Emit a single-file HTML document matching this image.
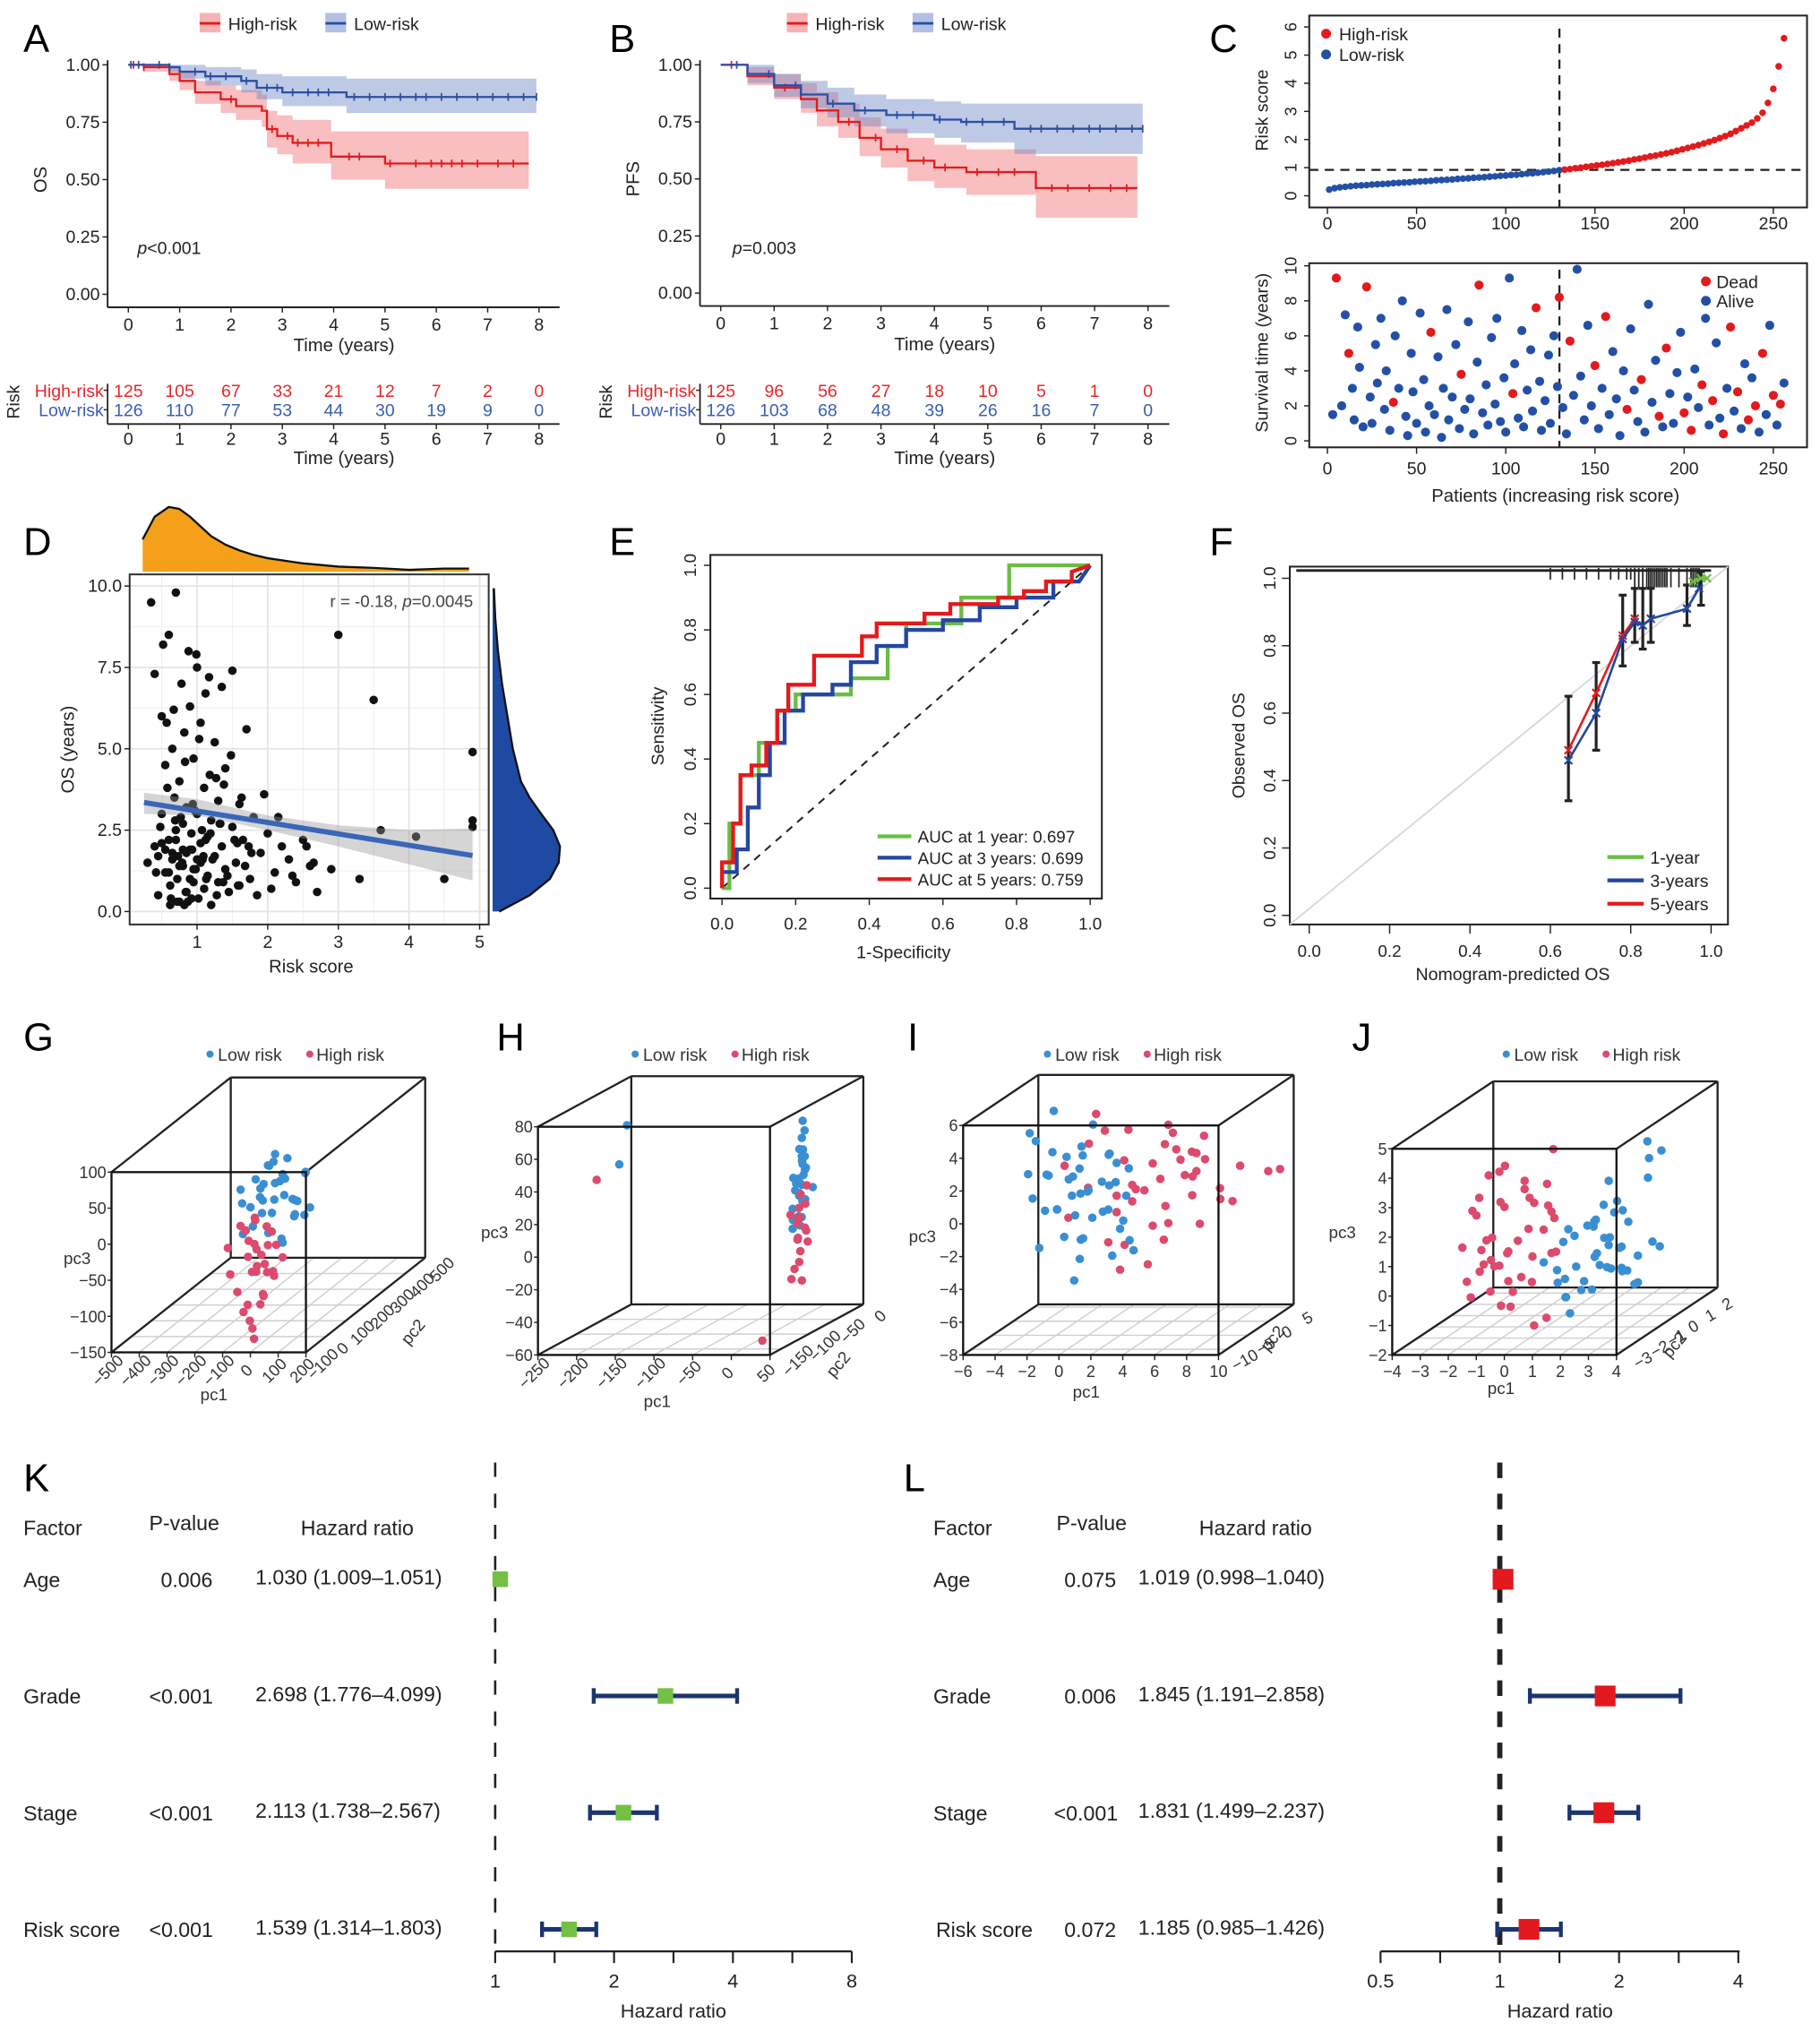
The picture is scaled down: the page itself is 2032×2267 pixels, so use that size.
<!DOCTYPE html>
<html><head><meta charset="utf-8"><title>Risk model figure</title>
<style>html,body{margin:0;padding:0;background:#fff;}svg{display:block;font-family:"Liberation Sans",Arial,sans-serif;}</style>
</head><body>
<svg id="fig" xmlns="http://www.w3.org/2000/svg" width="2032" height="2267" viewBox="0 0 1404 1566.4"></svg>
<script>
// ---------------- DATA ----------------
const kmYears=[0,1,2,3,4,5,6,7,8];
const aHighT=[0,0.3,0.8,1.0,1.3,1.8,2.1,2.6,2.7,2.9,3.2,3.95,5.0,7.8];
const aHighS=[1,0.99,0.96,0.93,0.88,0.85,0.82,0.80,0.72,0.69,0.66,0.60,0.57,0.57];
const aHighLo=[1,0.97,0.93,0.89,0.83,0.79,0.76,0.73,0.64,0.61,0.57,0.50,0.46,0.46];
const aHighHi=[1,1,0.99,0.97,0.93,0.91,0.89,0.87,0.80,0.78,0.76,0.71,0.71,0.71];
const aLowT=[0,0.8,1.0,1.5,2.2,2.5,3.0,4.25,7.95];
const aLowS=[1,0.99,0.97,0.95,0.93,0.90,0.88,0.86,0.86];
const aLowLo=[1,0.97,0.94,0.91,0.88,0.85,0.82,0.79,0.79];
const aLowHi=[1,1,1,0.99,0.98,0.96,0.95,0.94,0.94];
const aHighCens=[0.1,0.3,2.0,2.8,3.1,3.3,3.5,3.7,4.3,4.5,5.1,5.6,5.9,6.1,6.3,6.5,6.8,7.2,7.5];
const aLowCens=[0.05,0.2,0.6,0.8,1.3,1.6,1.9,2.3,2.7,2.9,3.2,3.5,3.7,3.9,4.4,4.7,5.0,5.3,5.6,5.8,6.1,6.4,6.8,7.1,7.4,7.7,7.95];
const aRiskHigh=[125,105,67,33,21,12,7,2,0];
const aRiskLow=[126,110,77,53,44,30,19,9,0];
const bHighT=[0,0.5,1.0,1.5,1.8,2.2,2.6,3.0,3.5,4.0,4.6,5.9,7.8];
const bHighS=[1,0.95,0.90,0.85,0.80,0.75,0.68,0.63,0.58,0.55,0.53,0.46,0.46];
const bHighLo=[1,0.91,0.85,0.79,0.73,0.68,0.60,0.55,0.49,0.46,0.43,0.33,0.33];
const bHighHi=[1,0.99,0.96,0.92,0.88,0.83,0.77,0.72,0.68,0.65,0.63,0.60,0.60];
const bLowT=[0,0.5,1.0,1.5,2.0,2.5,3.1,4.0,4.5,5.5,7.9];
const bLowS=[1,0.96,0.91,0.87,0.83,0.80,0.78,0.76,0.75,0.72,0.72];
const bLowLo=[1,0.92,0.86,0.81,0.77,0.73,0.70,0.68,0.66,0.61,0.61];
const bLowHi=[1,1,0.96,0.93,0.90,0.87,0.85,0.84,0.83,0.83,0.83];
const bHighCens=[0.2,1.2,2.4,2.9,3.3,3.8,4.2,4.8,5.2,5.5,6.2,6.5,6.9,7.3,7.6];
const bLowCens=[0.3,0.9,1.4,2.1,2.7,3.3,3.6,4.1,4.6,4.9,5.3,5.8,6.0,6.3,6.6,6.9,7.1,7.4,7.7,7.9];
const bRiskHigh=[125,96,56,27,18,10,5,1,0];
const bRiskLow=[126,103,68,48,39,26,16,7,0];
const riskScores=[0.22,0.27,0.3,0.32,0.34,0.36,0.37,0.38,0.40,0.41,0.42,0.43,0.45,0.46,0.47,0.48,0.5,0.51,0.52,0.53,0.55,0.56,0.57,0.58,0.6,0.61,0.62,0.64,0.65,0.66,0.68,0.69,0.71,0.72,0.74,0.75,0.77,0.79,0.8,0.82,0.84,0.86,0.88,0.91,0.93,0.95,0.98,1.0,1.03,1.05,1.08,1.1,1.13,1.16,1.19,1.22,1.25,1.29,1.32,1.36,1.4,1.43,1.47,1.51,1.55,1.6,1.65,1.7,1.75,1.8,1.86,1.92,1.98,2.05,2.12,2.2,2.3,2.4,2.5,2.6,2.75,2.95,3.3,3.8,4.6,5.6];
const riskCut=0.92;
const survPatient=[3,5,8,10,12,14,15,17,18,20,22,24,25,27,28,30,32,33,35,37,38,40,42,44,45,47,48,50,52,54,55,57,58,60,62,64,65,67,68,70,72,74,75,77,79,80,82,84,85,87,89,90,92,94,95,97,99,100,102,104,105,107,109,110,112,114,115,117,119,120,122,124,125,127,129,130,132,134,136,138,140,142,144,146,148,150,152,154,156,158,160,162,164,166,168,170,172,174,176,178,180,182,184,186,188,190,192,194,196,198,200,202,204,206,208,210,212,214,216,218,220,222,224,226,228,230,232,234,236,238,240,242,244,246,248,250,252,254,256];
const survTime=[1.5,9.3,2.0,7.2,5.0,3.0,1.2,6.5,4.2,0.8,8.8,2.5,1.0,5.5,3.3,7.0,1.8,4.0,0.6,2.2,6.0,3.0,8.0,1.4,0.3,5.0,2.8,1.0,7.3,3.5,0.5,2.0,6.2,1.5,4.8,0.2,3.0,7.5,1.2,2.5,5.5,0.7,3.8,1.8,6.8,2.4,0.4,4.5,8.9,1.6,3.2,0.9,5.9,2.1,7.0,1.1,3.6,0.5,9.3,2.7,4.4,1.3,6.3,0.8,2.9,5.2,1.7,7.6,3.4,0.6,2.3,4.9,1.0,6.0,3.1,8.2,1.9,0.4,5.7,2.6,9.8,3.7,1.2,6.6,2.0,4.3,0.7,3.0,7.1,1.5,5.1,2.4,0.3,4.0,1.8,6.4,2.9,1.1,3.5,0.5,7.8,2.2,4.6,1.4,0.8,5.3,2.7,1.0,3.9,6.2,1.6,2.5,0.6,4.1,1.9,3.2,7.0,0.9,2.3,5.6,1.3,0.4,3.0,6.5,1.7,2.8,0.7,4.4,1.2,3.6,2.0,0.5,5.0,1.5,6.6,2.6,0.9,2.1,3.3];
const deadPatients=[5,12,22,37,58,75,85,104,117,130,136,150,156,168,176,186,190,200,204,210,216,222,226,230,236,240,244,250,254];
const dRisk=[0.3,0.35,0.4,0.4,0.45,0.5,0.5,0.55,0.55,0.6,0.6,0.62,0.65,0.65,0.68,0.7,0.7,0.72,0.75,0.75,0.78,0.8,0.8,0.82,0.85,0.85,0.88,0.9,0.9,0.92,0.95,0.95,0.98,1.0,1.0,1.02,1.05,1.05,1.08,1.1,1.1,1.12,1.15,1.15,1.18,1.2,1.2,1.25,1.25,1.3,1.3,1.35,1.35,1.4,1.4,1.45,1.5,1.5,1.55,1.6,1.6,1.65,1.7,1.75,1.8,1.85,1.9,1.95,2.0,2.05,2.1,2.2,2.3,2.4,2.5,2.6,2.7,2.9,3.0,3.3,3.5,4.1,4.5,4.9,0.42,0.48,0.58,0.63,0.67,0.73,0.77,0.83,0.87,0.93,0.97,1.03,1.07,1.13,1.17,1.22,1.28,1.33,1.38,1.43,1.48,1.53,1.58,1.63,1.68,1.73,0.52,0.57,0.69,0.79,0.84,0.94,0.99,1.09,1.19,1.27,1.37,1.57,1.77,2.15,2.35,2.55,2.65,0.45,0.55,0.65,0.75,0.85,0.95,1.05,0.5,0.6,0.7,0.8,0.9,1.0,0.62,0.72,0.82,0.92,1.12,1.32,3.6,4.9,4.9];
const dOS=[1.5,9.5,2.0,7.3,0.5,3.0,6.0,1.2,4.5,2.2,8.5,0.8,1.8,5.0,3.5,2.5,9.8,1.0,4.0,0.3,7.0,2.7,1.4,5.5,0.6,3.2,8.0,1.9,6.3,2.4,0.9,4.7,1.3,3.0,7.5,0.4,2.1,5.8,1.6,3.8,0.7,6.7,2.3,1.1,4.2,2.8,0.2,5.2,1.7,3.4,0.9,6.9,2.0,1.3,4.4,0.6,2.6,7.4,1.5,3.3,0.8,2.2,5.6,1.0,2.9,0.5,1.8,3.6,2.4,0.7,1.2,2.0,1.6,0.9,2.2,1.4,0.6,1.3,8.5,1.0,6.5,2.3,1.0,4.9,1.2,2.6,3.8,0.4,6.2,1.7,2.9,4.6,0.3,1.9,3.1,5.3,2.5,1.0,7.2,1.6,0.5,2.7,3.9,1.1,4.8,2.2,0.8,3.5,1.4,2.0,8.2,5.8,2.8,1.5,0.6,3.3,7.9,1.7,2.4,4.1,0.9,2.1,1.8,2.9,1.1,2.0,1.5,1.7,1.9,1.6,1.4,1.8,1.3,1.5,2.1,1.2,2.2,1.9,1.0,1.6,0.2,0.3,0.2,0.4,2.2,2.7,2.5,2.8,2.6];
const dDensX=[0.23,0.4,0.6,0.75,0.9,1.05,1.2,1.4,1.6,1.8,2.0,2.5,3.0,3.5,4.0,4.5,4.85];
const dDensY=[0.5,0.85,1.0,0.97,0.85,0.7,0.55,0.42,0.33,0.26,0.21,0.13,0.08,0.06,0.03,0.05,0.05];
const dDensOS=[0,0.5,1,1.5,2,2.5,3,3.5,4,5,6,7,8,9,9.9];
const dDensOSv=[0.1,0.55,0.85,0.98,1.0,0.9,0.72,0.55,0.42,0.3,0.22,0.14,0.08,0.04,0.02];
const dFitX=[0.25,4.9];
const dFitY=[3.35,1.72];
const dCiX=[0.25,1,2,3,4,4.9];
const dCiLo=[3.0,2.95,2.5,2.0,1.45,0.95];
const dCiHi=[3.65,3.45,2.95,2.65,2.5,2.55];
const roc1F=[0,0.02,0.02,0.05,0.05,0.1,0.1,0.15,0.15,0.2,0.2,0.35,0.35,0.45,0.45,0.5,0.5,0.65,0.65,0.78,0.78,0.95,1];
const roc1T=[0,0,0.2,0.2,0.35,0.35,0.45,0.45,0.55,0.55,0.6,0.6,0.65,0.65,0.75,0.75,0.82,0.82,0.9,0.9,1.0,1.0,1];
const roc3F=[0,0,0.04,0.04,0.07,0.07,0.1,0.1,0.13,0.13,0.17,0.17,0.22,0.22,0.3,0.3,0.35,0.35,0.42,0.42,0.5,0.5,0.6,0.6,0.7,0.7,0.8,0.8,0.9,0.9,0.97,1];
const roc3T=[0,0.05,0.05,0.12,0.12,0.25,0.25,0.35,0.35,0.45,0.45,0.55,0.55,0.6,0.6,0.63,0.63,0.7,0.7,0.75,0.75,0.8,0.8,0.83,0.83,0.87,0.87,0.9,0.9,0.95,0.95,1];
const roc5F=[0,0,0.03,0.03,0.05,0.05,0.08,0.08,0.12,0.12,0.15,0.15,0.18,0.18,0.25,0.25,0.38,0.38,0.42,0.42,0.55,0.55,0.62,0.62,0.75,0.75,0.82,0.82,0.88,0.88,0.95,0.95,1];
const roc5T=[0,0.08,0.08,0.2,0.2,0.35,0.35,0.38,0.38,0.45,0.45,0.55,0.55,0.63,0.63,0.72,0.72,0.78,0.78,0.82,0.82,0.85,0.85,0.88,0.88,0.9,0.9,0.92,0.92,0.95,0.95,0.98,1];
const rocLabels=['AUC at 1 year: 0.697','AUC at 3 years: 0.699','AUC at 5 years: 0.759'];
const cal1P=[0.955,0.975,0.99];
const cal1O=[0.99,1.0,1.0];
const cal3P=[0.645,0.714,0.78,0.81,0.83,0.85,0.94,0.97];
const cal3O=[0.46,0.60,0.82,0.87,0.86,0.88,0.91,0.97];
const cal5P=[0.645,0.714,0.78,0.81];
const cal5O=[0.49,0.66,0.83,0.88];
const calErrP=[0.645,0.714,0.78,0.81,0.83,0.85,0.94,0.975];
const calErrLo=[0.34,0.49,0.74,0.81,0.79,0.81,0.86,0.92];
const calErrHi=[0.65,0.75,0.95,0.97,0.97,0.97,0.98,1.02];
const calRug=[0.6,0.63,0.66,0.69,0.72,0.75,0.77,0.79,0.8,0.81,0.82,0.83,0.84,0.845,0.85,0.855,0.86,0.865,0.87,0.875,0.88,0.885,0.89,0.9,0.92,0.94,0.95,0.955,0.96,0.965,0.97];
const gLow1=[-280,-250,-230,-210,-200,-190,-180,-170,-160,-150,-140,-130,-120,-110,-100,-90,-80,-60,-40,-20,-220,-180,-150,-130,-100,-70,-160,-120,-90,-50,-140,-110,-170,-60,-200];
const gLow3=[-20,10,-40,20,-10,30,0,-30,40,-50,10,-20,25,-60,5,-35,15,-10,0,-25,-45,35,-15,15,-40,-5,20,-70,30,-30,55,45,-5,20,5];
const gLow2=[250,200,280,220,180,260,300,150,240,200,270,190,230,210,160,250,290,220,180,200,170,240,280,130,260,210,190,230,150,270,220,240,200,260,230];
const gHigh1=[-260,-230,-210,-190,-180,-170,-160,-150,-140,-130,-120,-110,-100,-90,-80,-70,-200,-175,-155,-135,-115,-95,-145,-125,-165,-105,-185,-140,-120,-100,-150,-130];
const gHigh3=[-60,-90,-40,-110,-70,-20,-130,-50,-100,-80,-30,-120,-60,-90,-45,-75,-25,-140,-85,-55,-105,-35,-150,-65,-95,-115,-50,-15,-80,-125,-165,-175];
const gHigh2=[150,120,170,100,140,160,110,130,180,90,150,120,170,140,100,160,130,110,150,120,180,140,100,130,160,110,150,120,140,90,120,100];
const hLow1=[30,35,40,42,45,38,33,48,36,44,40,31,47,39,43,37,41,34,46,42,38,44,36,40,45,39,41,43,-220,-230];
const hLow3=[10,20,30,40,50,25,35,15,45,55,60,5,28,38,22,33,48,18,42,12,52,8,26,36,65,70,44,32,59,35];
const hLow2=[-100,-90,-110,-95,-105,-100,-85,-115,-92,-108,-98,-102,-88,-112,-96,-104,-94,-106,-99,-101,-93,-107,-97,-103,-100,-95,-98,-102,-50,-50];
const hHigh1=[32,36,40,44,38,34,42,46,37,41,35,39,43,33,45,40,36,38,-238,33];
const hHigh3=[-20,-10,0,5,10,15,-5,20,25,-15,8,12,30,-25,3,18,-2,-28,31,-53];
const hHigh2=[-100,-95,-105,-98,-102,-110,-90,-100,-96,-104,-99,-101,-93,-107,-97,-103,-100,-95,-80,-160];
const iLow1=[-4,-3.5,-3,-2.5,-2,-1.5,-1,-0.5,0,0.5,1,1.5,2,-3.8,-2.8,-1.8,-0.8,0.2,1.2,2.2,-3.2,-2.2,-1.2,-0.2,0.8,1.8,-2.6,-1.6,-0.6,0.4,-3.4,-2.4,-1.4,0.6,1.6,2.6,-1,-2,0,1,-3,-2.7,-1.1,-0.3,0.3];
const iLow3=[0,2,-1,3,1,-2,4,0.5,-3,2.5,-0.5,1.5,-1.5,3.5,-2.5,0,2,-4,1,-1,5,-0.5,3,-2,0.8,-3.5,1.8,-1.2,2.8,-0.8,4.5,2.2,-5,1.2,0,-2.2,0.3,1,-1,2,1.4,-0.4,-2.6,0.6,2.4];
const iLow2=[-3,-6,-1,-4,-2,-5,0,-3,-7,-2,-4,-1,-5,-3,-6,-2,-4,0,-3,-5,-1,-4,-2,-6,-3,-1,-5,-2,-4,-3,-6,-1,-3,-4,-2,-5,-3,-1,-4,-2,-3,-5,-2,-4,-1];
const iHigh1=[-2,-1,0,1,2,3,4,5,6,7,8,9,0.5,1.5,2.5,3.5,4.5,5.5,6.5,7.5,1,2,3,4,5,6,-1.5,0,2,4,6,8,3,5,7,1,2.5,4.5,10.5,11.5,3.8,5.8,2.2,6.8];
const iHigh3=[2,3,1,-1,2.5,0.5,3.5,-2,1.5,4,-0.5,2,5.5,-3,0,2.8,-1.5,1,3.2,-0.2,-2.5,4.2,1.8,-3.5,2.2,0.2,-1,3.8,-4,1.2,2.6,0.8,-2,3,-1.2,0,1,4.5,1.5,1.8,-0.8,1.6,0.4,2.4];
const iHigh2=[-3,-1,-5,-2,-4,-3,0,-6,-2,-4,-1,-3,-5,-2,-4,0,-3,-1,-5,-2,-4,-3,-1,-6,-2,-3,-4,-1,-5,-3,-2,-4,-1,-3,-5,-2,-4,-3,-2,-3,-1,-4,-2,-3];
const jHigh1=[-3.3,-3,-2.7,-2.4,-2.1,-1.8,-1.5,-1.2,-0.9,-0.6,-0.3,0,0.3,-2.9,-2.3,-1.7,-1.1,-0.5,0.1,-2.6,-2,-1.4,-0.8,-0.2,-3.1,-2.5,-1.9,-1.3,-0.7,-1.6,-1,-2.2,-0.4,-1.2,-1.8,-2.8,-0.1,-1.5,-2.4,-0.9,-2.1,-1.4,-0.6,-3.2,-2.7];
const jHigh3=[0.5,2,-1,1.5,3,0,2.5,-0.5,1,3.5,0.2,1.8,-1.5,-0.3,0.8,2.2,-1.2,1.2,0.4,2.8,-0.8,1.6,0.2,-1.8,1.4,-0.2,3.2,0.6,2.4,-0.6,1.1,0.9,-0.4,2,-1.4,0.3,1.3,-1,0,2.6,-0.1,0.5,1.7,-0.7,1.9];
const jHigh2=[-0.5,0,-1,0.5,-0.3,-0.8,0.2,-0.5,-1.2,0.4,-0.2,-0.7,-1.5,0.1,-0.4,-0.9,-1.3,0.3,-0.6,-0.1,-1,0.6,-0.5,-1.4,0,-0.8,-0.3,-1.1,0.2,-0.6,-0.4,-0.9,-1.2,0,-0.7,-0.2,-1,-0.5,-0.3,-0.8,-0.6,-1,0.1,-0.4,-0.9];
const jLow1=[-0.4,0,0.4,0.8,1.2,1.6,2,2.4,2.8,3.2,0.2,0.6,1,1.4,1.8,2.2,2.6,3,1.1,1.5,1.9,2.3,0.7,1.3,1.7,2.1,2.5,0.9,1.5,2.9,3.3,1.7,0.5,2,2.7,1.2,3.6,3.8,3.2,2.4,1.0,1.8,2.6,0.3,1.4,2.2];
const jLow3=[0,0.5,-0.5,1,-1,0.3,1.5,-0.3,0.8,0.2,-1.3,1.2,-0.8,0.6,-0.2,1,2,0.4,-0.6,1.8,0.1,-1.1,0.9,0.2,-0.4,0.7,1.3,-1.5,2.5,-0.7,3.5,1.6,0,0.3,-0.2,1.1,4.3,3.8,2.8,2.2,-0.9,0.5,0.0,-0.6,1.4,-0.3];
const jLow2=[-0.5,0,-1,0.5,-0.3,-0.8,0.2,-0.5,-1.2,0.4,-0.2,-0.7,-1.5,0.1,-0.4,-0.9,-1.3,0.3,-0.6,-0.1,-1,0.6,-0.5,-1.4,0,-0.8,-0.3,-1.1,0.2,-0.6,-0.4,-0.9,-1.2,0,-0.7,-0.2,-1,-0.5,-0.3,-0.8,-0.6,-1,0.1,-0.4,-0.9,-0.2];
const forestFactors=['Age','Grade','Stage','Risk score'];
const kP=['0.006','<0.001','<0.001','<0.001'];
const kHR=[1.030,2.698,2.113,1.539];
const kLo=[1.009,1.776,1.738,1.314];
const kHi=[1.051,4.099,2.567,1.803];
const lP=['0.075','0.006','<0.001','0.072'];
const lHR=[1.019,1.845,1.831,1.185];
const lLo=[0.998,1.191,1.499,0.985];
const lHi=[1.040,2.858,2.237,1.426];

// ---------------- HELPERS ----------------
const NS='http://www.w3.org/2000/svg';
const root=document.getElementById('fig');
function mk(tag,a,name,parent){
  const el=document.createElementNS(NS,tag);
  for(const k in a) el.setAttribute(k,a[k]);
  
  
  (parent||root).appendChild(el);
  return el;
}
function T(x,y,s,name,o){
  o=o||{};
  const el=mk('text',{x:x,y:y,'font-size':o.fs||13,'text-anchor':o.a||'middle',fill:o.c||'#222'},name);
  if(o.it) el.setAttribute('font-style','italic');
  if(o.rot) el.setAttribute('transform','rotate('+o.rot+' '+x+' '+y+')');
  el.textContent=s;
  return el;
}
function L(x1,y1,x2,y2,name,o){
  o=o||{};
  const a={x1:x1,y1:y1,x2:x2,y2:y2,stroke:o.c||'#222','stroke-width':o.w||1};
  if(o.dash) a['stroke-dasharray']=o.dash;
  return mk('line',a,name);
}
function dot(x,y,r,c,name){return mk('circle',{cx:x,cy:y,r:r,fill:c},name);}
function fmt(v,d){return v.toFixed(d);}
function stepPts(t,s,xs,ys){let p=[[xs(t[0]),ys(s[0])]];for(let i=1;i<t.length;i++){p.push([xs(t[i]),ys(s[i-1])]);p.push([xs(t[i]),ys(s[i])]);}return p;}
function stepVal(t,s,x){let v=s[0];for(let i=0;i<t.length;i++){if(t[i]<=x)v=s[i];}return v;}

// ---------------- KM PANELS ----------------
function kmPanel(P){
  const xs=P.xs, ys=P.ys;
  T(P.letterX,40,P.letter,'panel-letter-'+P.letter,{fs:30,a:'start',c:'#000'});
  mk('rect',{x:P.legX,y:10,width:16,height:15,fill:'#f6b3b5'},'legend-high-risk-key');
  L(P.legX,18,P.legX+16,18,'legend-high-risk-line',{c:'#e41a1c',w:2});
  T(P.legX+22,23,'High-risk','legend-high-risk-label',{a:'start',fs:13.5});
  mk('rect',{x:P.legX+97,y:10,width:16,height:15,fill:'#b3c0e3'},'legend-low-risk-key');
  L(P.legX+97,18,P.legX+113,18,'legend-low-risk-line',{c:'#2a4fa3',w:2});
  T(P.legX+119,23,'Low-risk','legend-low-risk-label',{a:'start',fs:13.5});
  const groups=[[P.hT,P.hS,P.hLo,P.hHi,'#e41a1c','rgba(240,110,115,0.45)','high-risk',P.hC],[P.lT,P.lS,P.lLo,P.lHi,'#2a4fa3','rgba(110,135,200,0.45)','low-risk',P.lC]];
  groups.forEach(g=>{
    const up=stepPts(g[0],g[3],xs,ys), lo=stepPts(g[0],g[2],xs,ys).reverse();
    mk('polygon',{points:up.concat(lo).map(p=>p.join(',')).join(' '),fill:g[5]},'ci-band-'+g[6]);
  });
  groups.forEach(g=>{
    const pts=stepPts(g[0],g[1],xs,ys);
    mk('polyline',{points:pts.map(p=>p.join(',')).join(' '),fill:'none',stroke:g[4],'stroke-width':1.6},'survival-curve-'+g[6]);
    g[7].forEach(c=>{const y=ys(stepVal(g[0],g[1],c));L(xs(c),y-3,xs(c),y+3,'censor-mark-'+g[6],{c:g[4],w:1.2});});
  });
  L(P.axX,ys(1.02),P.axX,P.axY,'y-axis-line',{w:1.3});
  L(P.axX,P.axY,xs(8.4),P.axY,'x-axis-line',{w:1.3});
  [0,0.25,0.5,0.75,1].forEach(v=>{L(P.axX-4,ys(v),P.axX,ys(v),'y-tick');T(P.axX-6,ys(v)+4.5,fmt(v,2),'y-tick-label',{a:'end',fs:13.5});});
  kmYears.forEach(v=>{L(xs(v),P.axY,xs(v),P.axY+4,'x-tick');T(xs(v),P.axY+18,String(v),'x-tick-label',{fs:13.5});});
  T((xs(0)+xs(8))/2+8,P.axY+34,'Time (years)','x-axis-title',{fs:14});
  T(P.axX-47,ys(0.5),P.ylab,'y-axis-title',{fs:14,rot:-90});
  const pt=T(P.pX,196,'','p-value-annotation',{a:'start',fs:13.5});
  const ts=document.createElementNS(NS,'tspan');ts.setAttribute('font-style','italic');ts.textContent='p';pt.appendChild(ts);
  pt.appendChild(document.createTextNode(P.pTxt));
  T(P.axX-68,310,'Risk','risk-table-title',{fs:13.5,rot:-90});
  T(P.axX-3,306,'High-risk','risk-table-high-label',{a:'end',fs:13.5,c:'#e8262b'});
  T(P.axX-3,321,'Low-risk','risk-table-low-label',{a:'end',fs:13.5,c:'#3a5fb0'});
  L(P.axX,296,P.axX,327,'risk-table-y-axis',{w:1.2});
  L(P.axX-3,301,P.axX,301,'risk-tick');L(P.axX-3,316,P.axX,316,'risk-tick');
  kmYears.forEach((v,i)=>{
    T(xs(v),306,String(P.rH[i]),'risk-count-high',{fs:13.5,c:'#e8262b'});
    T(xs(v),321,String(P.rL[i]),'risk-count-low',{fs:13.5,c:'#3a5fb0'});
    L(xs(v),327,xs(v),331,'risk-x-tick');
    T(xs(v),343,String(v),'risk-x-tick-label',{fs:13.5});
  });
  L(P.axX,327,xs(8.4),327,'risk-table-x-axis',{w:1.3});
  T((xs(0)+xs(8))/2+8,358,'Time (years)','risk-table-x-title',{fs:14});
}
kmPanel({letter:'A',letterX:18,legX:154,xs:t=>99+t*39.6,ys:s=>227-s*177,axX:83,axY:237,ylab:'OS',pX:106,pTxt:'<0.001',
  hT:aHighT,hS:aHighS,hLo:aHighLo,hHi:aHighHi,hC:aHighCens,lT:aLowT,lS:aLowS,lLo:aLowLo,lHi:aLowHi,lC:aLowCens,rH:aRiskHigh,rL:aRiskLow});
kmPanel({letter:'B',letterX:470,legX:607,xs:t=>556+t*41.2,ys:s=>226-s*176,axX:540,axY:236,ylab:'PFS',pX:565,pTxt:'=0.003',
  hT:bHighT,hS:bHighS,hLo:bHighLo,hHi:bHighHi,hC:bHighCens,lT:bLowT,lS:bLowS,lLo:bLowLo,lHi:bLowHi,lC:bLowCens,rH:bRiskHigh,rL:bRiskLow});

// ---------------- PANEL C ----------------
(function(){
  const xs=p=>1024+p*1.376;
  T(933,40,'C','panel-letter-C',{fs:30,a:'start',c:'#000'});
  const yt=v=>151-v*21.7;
  mk('rect',{x:1010,y:12,width:384,height:148,fill:'none',stroke:'#222','stroke-width':1.4},'risk-score-plot-frame');
  L(1203,22,1203,160,'cutoff-vertical-line',{dash:'7,5',w:1.6});
  L(1010,yt(riskCut),1394,yt(riskCut),'cutoff-horizontal-line',{dash:'7,5',w:1.6});
  riskScores.forEach((v,i)=>{const p=1+i*3;dot(xs(p),yt(v),2.6,p>130?'#e31a1c':'#2350a5','risk-score-point');});
  [0,1,2,3,4,5,6].forEach(v=>{L(1006,yt(v),1010,yt(v),'risk-y-tick');T(1000,yt(v),String(v),'risk-y-tick-label',{fs:12.5,rot:-90});});
  [0,50,100,150,200,250].forEach(v=>{L(xs(v),160,xs(v),165,'risk-x-tick');T(xs(v),177,String(v),'risk-x-tick-label',{fs:13.5});});
  T(978,85,'Risk score','risk-y-axis-title',{fs:13.5,rot:-90});
  dot(1023,26,3.8,'#e31a1c','legend-high-risk-dot');T(1033,31,'High-risk','legend-high-risk-text',{a:'start',fs:13.5});
  dot(1023,42,3.8,'#2350a5','legend-low-risk-dot');T(1033,47,'Low-risk','legend-low-risk-text',{a:'start',fs:13.5});
  const ys=v=>340-v*13.5;
  mk('rect',{x:1010,y:203,width:384,height:142,fill:'none',stroke:'#222','stroke-width':1.4},'survival-plot-frame');
  L(1203,208,1203,345,'survival-cutoff-line',{dash:'7,5',w:1.6});
  const deadSet=new Set(deadPatients);
  const n=Math.min(survPatient.length,survTime.length);
  for(let i=0;i<n;i++){dot(xs(survPatient[i]),ys(survTime[i]),3.5,deadSet.has(survPatient[i])?'#e31a1c':'#2350a5','survival-point');}
  [0,2,4,6,8,10].forEach(v=>{L(1006,ys(v),1010,ys(v),'surv-y-tick');T(1000,ys(v),String(v),'surv-y-tick-label',{fs:12.5,rot:-90});});
  [0,50,100,150,200,250].forEach(v=>{L(xs(v),345,xs(v),350,'surv-x-tick');T(xs(v),366,String(v),'surv-x-tick-label',{fs:13.5});});
  T(978,272,'Survival time (years)','surv-y-axis-title',{fs:13.5,rot:-90});
  T(1200,387,'Patients (increasing risk score)','surv-x-axis-title',{fs:14});
  dot(1316,217,3.8,'#e31a1c','legend-dead-dot');T(1324,222,'Dead','legend-dead-text',{a:'start',fs:13.5});
  dot(1316,232,3.8,'#2350a5','legend-alive-dot');T(1324,237,'Alive','legend-alive-text',{a:'start',fs:13.5});
})();

// ---------------- PANEL D ----------------
(function(){
  const xs=r=>152+(r-1)*54.5, ys=o=>703-o*25.1;
  T(18,428,'D','panel-letter-D',{fs:30,a:'start',c:'#000'});
  mk('rect',{x:100,y:443,width:277,height:270,fill:'#fff'},'scatter-background');
  [0.5,1.5,2.5,3.5,4.5].forEach(v=>L(xs(v),443,xs(v),713,'minor-grid-x',{c:'#f1f1f1',w:0.8}));
  [1.25,3.75,6.25,8.75].forEach(v=>L(100,ys(v),377,ys(v),'minor-grid-y',{c:'#f1f1f1',w:0.8}));
  [1,2,3,4,5].forEach(v=>L(xs(v),443,xs(v),713,'major-grid-x',{c:'#e4e4e4',w:1.2}));
  [0,2.5,5,7.5,10].forEach(v=>L(100,ys(v),377,ys(v),'major-grid-y',{c:'#e4e4e4',w:1.2}));
  const up=dCiX.map((x,i)=>xs(x)+','+ys(dCiHi[i])), lo=dCiX.map((x,i)=>xs(x)+','+ys(dCiLo[i])).reverse();
  dRisk.forEach((r,i)=>{if(i<dOS.length)dot(xs(r),ys(dOS[i]),3.3,'#111','scatter-point');});
  mk('polygon',{points:up.concat(lo).join(' '),fill:'rgba(150,150,150,0.4)'},'regression-ci-band');
  L(xs(dFitX[0]),ys(dFitY[0]),xs(dFitX[1]),ys(dFitY[1]),'regression-line',{c:'#3a66b8',w:4});
  mk('rect',{x:100,y:443,width:277,height:270,fill:'none',stroke:'#333','stroke-width':1.4},'scatter-frame');
  [1,2,3,4,5].forEach(v=>{L(xs(v),713,xs(v),717,'d-x-tick');T(xs(v),731,String(v),'d-x-tick-label',{fs:13.5});});
  [0,2.5,5,7.5,10].forEach(v=>{L(96,ys(v),100,ys(v),'d-y-tick');T(94,ys(v)+4.5,fmt(v,1),'d-y-tick-label',{a:'end',fs:13.5});});
  T(240,750,'Risk score','d-x-axis-title',{fs:14});
  T(57,578,'OS (years)','d-y-axis-title',{fs:14,rot:-90});
  const an=T(365,468,'','correlation-annotation',{a:'end',fs:13,c:'#444'});
  an.appendChild(document.createTextNode('r = -0.18, '));
  const ip=document.createElementNS(NS,'tspan');ip.setAttribute('font-style','italic');ip.textContent='p';an.appendChild(ip);
  an.appendChild(document.createTextNode('=0.0045'));
  let d='M'+xs(dDensX[0])+',441 ';dDensX.forEach((x,i)=>{d+='L'+xs(x)+','+(441-dDensY[i]*50)+' ';});d+='L'+xs(dDensX[dDensX.length-1])+',441 Z';
  mk('path',{d:d,fill:'#f5a01a',stroke:'none'},'risk-density-fill');
  let d2='';dDensX.forEach((x,i)=>{d2+=(i?'L':'M')+xs(x)+','+(441-dDensY[i]*50)+' ';});
  mk('path',{d:d2,fill:'none',stroke:'#111','stroke-width':1.6},'risk-density-outline');
  let d3='M380,'+ys(0)+' ';dDensOS.forEach((o,i)=>{d3+='L'+(380+dDensOSv[i]*52)+','+ys(o)+' ';});d3+='L380,'+ys(9.9)+' Z';
  mk('path',{d:d3,fill:'#1f4aa3',stroke:'none'},'os-density-fill');
  let d4='';dDensOS.forEach((o,i)=>{d4+=(i?'L':'M')+(380+dDensOSv[i]*52)+','+ys(o)+' ';});d4+='L380,'+ys(9.9);
  mk('path',{d:d4,fill:'none',stroke:'#111','stroke-width':1.6},'os-density-outline');
})();

// ---------------- PANEL E ----------------
(function(){
  const xs=f=>557+f*284, ys=s=>685-s*249;
  T(470,428,'E','panel-letter-E',{fs:30,a:'start',c:'#000'});
  mk('rect',{x:548,y:428,width:302,height:265,fill:'none',stroke:'#222','stroke-width':1.4},'roc-frame');
  L(xs(0),ys(0),xs(1),ys(1),'roc-diagonal',{dash:'6,5',w:1.4});
  [[roc1F,roc1T,'#6bbd45','roc-1-year'],[roc3F,roc3T,'#2447a0','roc-3-years'],[roc5F,roc5T,'#e41a1c','roc-5-years']].forEach(r=>{
    mk('polyline',{points:r[0].map((f,i)=>xs(f)+','+ys(r[1][i])).join(' '),fill:'none',stroke:r[2],'stroke-width':3},r[3]);
  });
  [0,0.2,0.4,0.6,0.8,1].forEach(v=>{
    L(xs(v),693,xs(v),698,'e-x-tick');T(xs(v),717,fmt(v,1),'e-x-tick-label',{fs:13});
    L(543,ys(v),548,ys(v),'e-y-tick');T(537,ys(v),fmt(v,1),'e-y-tick-label',{fs:13,rot:-90});
  });
  T(697,739,'1-Specificity','e-x-axis-title',{fs:13.5});
  T(512,560,'Sensitivity','e-y-axis-title',{fs:13.5,rot:-90});
  const cols=['#6bbd45','#2447a0','#e41a1c'];
  rocLabels.forEach((s,i)=>{const y=645+i*16.5;L(677,y,703,y,'roc-legend-line',{c:cols[i],w:3});T(708,y+5,s,'roc-legend-label',{a:'start',fs:13});});
})();

// ---------------- PANEL F ----------------
(function(){
  const xs=p=>1010+p*310, ys=o=>706-o*260;
  T(933,428,'F','panel-letter-F',{fs:30,a:'start',c:'#000'});
  mk('rect',{x:995,y:437,width:338,height:276,fill:'none',stroke:'#222','stroke-width':1.4},'calibration-frame');
  L(995,713,1333,437,'ideal-diagonal',{c:'#d8d8d8',w:1.3});
  calRug.forEach(p=>L(xs(p),438,xs(p),447+(p>0.8?6:0),'prediction-rug',{w:1.2}));
  L(1000,440,xs(1),440,'rug-baseline',{w:2});
  calErrP.forEach((p,i)=>{
    L(xs(p),ys(calErrLo[i]),xs(p),ys(calErrHi[i]),'error-bar',{w:2.2});
    L(xs(p)-3,ys(calErrLo[i]),xs(p)+3,ys(calErrLo[i]),'error-bar-cap',{w:2.2});
    L(xs(p)-3,ys(calErrHi[i]),xs(p)+3,ys(calErrHi[i]),'error-bar-cap',{w:2.2});
  });
  [[cal1P,cal1O,'#6bbd45','calibration-1-year'],[cal5P,cal5O,'#e41a1c','calibration-5-years'],[cal3P,cal3O,'#2447a0','calibration-3-years']].forEach(c=>{
    mk('polyline',{points:c[0].map((p,i)=>xs(p)+','+ys(c[1][i])).join(' '),fill:'none',stroke:c[2],'stroke-width':1.8},c[3]);
    c[0].forEach((p,i)=>{const x=xs(p),y=ys(c[1][i]);L(x-3,y-3,x+3,y+3,'calibration-marker',{c:c[2],w:1.5});L(x-3,y+3,x+3,y-3,'calibration-marker',{c:c[2],w:1.5});});
  });
  [0,0.2,0.4,0.6,0.8,1].forEach(v=>{
    L(xs(v),713,xs(v),720,'f-x-tick');T(xs(v),738,fmt(v,1),'f-x-tick-label',{fs:13});
    L(989,ys(v),995,ys(v),'f-y-tick');T(984,ys(v),fmt(v,1),'f-y-tick-label',{fs:13,rot:-90});
  });
  T(1167,756,'Nomogram-predicted OS','f-x-axis-title',{fs:13.5});
  T(960,575,'Observed OS','f-y-axis-title',{fs:13.5,rot:-90});
  [['1-year','#6bbd45'],['3-years','#2447a0'],['5-years','#e41a1c']].forEach((l,i)=>{const y=661+i*18;L(1240,y,1268,y,'cal-legend-line',{c:l[1],w:3});T(1273,y+5,l[0],'cal-legend-label',{a:'start',fs:13.5});});
})();

// ---------------- PANELS G-J (3D PCA) ----------------
function pca3d(P){
  T(P.lx,810,P.letter,'panel-letter-'+P.letter,{fs:30,a:'start',c:'#000'});
  const proj=(a,b,c)=>{const u=(a-P.r1[0])/(P.r1[1]-P.r1[0]),v=(b-P.r2[0])/(P.r2[1]-P.r2[0]),w=(c-P.r3[0])/(P.r3[1]-P.r3[0]);
    return [P.fx+u*P.fw+v*P.dx, P.fy+P.fh-w*P.fh+v*P.dy];};
  const F=P.fx,Y=P.fy,W=P.fw,H=P.fh,dx=P.dx,dy=P.dy;
  P.t1.forEach(a=>{const p0=proj(a,P.r2[0],P.r3[0]),p1=proj(a,P.r2[1],P.r3[0]);L(p0[0],p0[1],p1[0],p1[1],'floor-grid-line',{c:'#cfcfcf',w:1});});
  P.t2.forEach(b=>{const p0=proj(P.r1[0],b,P.r3[0]),p1=proj(P.r1[1],b,P.r3[0]);L(p0[0],p0[1],p1[0],p1[1],'floor-grid-line',{c:'#cfcfcf',w:1});});
  L(F+dx,Y+dy,F+W+dx,Y+dy,'box-edge',{w:1.6});L(F+dx,Y+dy,F+dx,Y+H+dy,'box-edge',{w:1.6});
  L(F+W+dx,Y+dy,F+W+dx,Y+H+dy,'box-edge',{w:1.6});L(F+dx,Y+H+dy,F+W+dx,Y+H+dy,'box-edge',{w:1.6});
  L(F,Y,F+dx,Y+dy,'box-edge',{w:1.6});L(F+W,Y,F+W+dx,Y+dy,'box-edge',{w:1.6});
  L(F,Y+H,F+dx,Y+H+dy,'box-edge',{w:1.6});L(F+W,Y+H,F+W+dx,Y+H+dy,'box-edge',{w:1.6});
  const groups=[[P.low1,P.low3,P.low2,'#3a8fd3','low-risk-point'],[P.high1,P.high3,P.high2,'#dc4a6e','high-risk-point']];
  const order=P.highFirst?[1,0]:[0,1];
  order.forEach(k=>{const g=groups[k];const n=Math.min(g[0].length,g[1].length,g[2].length);
    for(let i=0;i<n;i++){const p=proj(g[0][i],g[2][i],g[1][i]);dot(p[0],p[1],3.3,g[3],g[4]);}});
  mk('rect',{x:F,y:Y,width:W,height:H,fill:'none',stroke:'#111','stroke-width':1.6},'box-front-face');
  P.t3.forEach(c=>{const y=proj(P.r1[0],P.r2[0],c)[1];L(F-3,y,F,y,'pc3-tick');T(F-4,y+4.5,String(c).replace('-','\u2212'),'pc3-tick-label',{a:'end',fs:12.5,c:'#333'});});
  P.t1.forEach(a=>{const p=proj(a,P.r2[0],P.r3[0]);L(p[0],p[1],p[0],p[1]+4,'pc1-tick');
    T(p[0],p[1]+17,String(a).replace('-','\u2212'),'pc1-tick-label',{fs:12.5,c:'#333',rot:P.rotLab?-45:0});});
  P.t2.forEach(b=>{const p=proj(P.r1[1],b,P.r3[0]);T(p[0]+16,p[1]+12,String(b).replace('-','\u2212'),'pc2-tick-label',{fs:12.5,c:'#333',rot:P.rotLab?-45:-30});});
  T(P.pc1x,P.pc1y,'pc1','pc1-axis-title',{fs:13,c:'#333'});
  T(P.pc3x,P.pc3y,'pc3','pc3-axis-title',{fs:13,c:'#333',a:'end'});
  T(P.pc2x,P.pc2y,'pc2','pc2-axis-title',{fs:13,c:'#333',rot:-50});
  dot(P.legX,813,2.8,'#3a8fd3','legend-low-risk-dot');T(P.legX+6,818,'Low risk','legend-low-risk-text',{a:'start',fs:13.5,c:'#333'});
  dot(P.legX+77,813,2.8,'#dc4a6e','legend-high-risk-dot');T(P.legX+82,818,'High risk','legend-high-risk-text',{a:'start',fs:13.5,c:'#333'});
}
pca3d({letter:'G',lx:18,fx:86,fy:904,fw:150,fh:139,dx:92,dy:-73,r1:[-500,200],r2:[-100,500],r3:[-150,100],
  t1:[-500,-400,-300,-200,-100,0,100,200],t2:[-100,0,100,200,300,400,500],t3:[-150,-100,-50,0,50,100],rotLab:true,
  low1:gLow1,low3:gLow3,low2:gLow2,high1:gHigh1,high3:gHigh3,high2:gHigh2,highFirst:false,
  pc1x:165,pc1y:1080,pc3x:70,pc3y:975,pc2x:322,pc2y:1030,legX:162});
pca3d({letter:'H',lx:383,fx:415,fy:869,fw:179,fh:176,dx:72,dy:-39,r1:[-250,50],r2:[-170,0],r3:[-60,80],
  t1:[-250,-200,-150,-100,-50,0,50],t2:[-150,-100,-50,0],t3:[-60,-40,-20,0,20,40,60,80],rotLab:true,
  low1:hLow1,low3:hLow3,low2:hLow2,high1:hHigh1,high3:hHigh3,high2:hHigh2,highFirst:false,
  pc1x:507,pc1y:1085,pc3x:392,pc3y:955,pc2x:650,pc2y:1055,legX:490});
pca3d({letter:'I',lx:700,fx:743,fy:868,fw:197,fh:177,dx:58,dy:-39,r1:[-6,10],r2:[-12,6],r3:[-8,6],
  t1:[-6,-4,-2,0,2,4,6,8,10],t2:[-10,-5,0,5],t3:[-8,-6,-4,-2,0,2,4,6],rotLab:false,
  low1:iLow1,low3:iLow3,low2:iLow2,high1:iHigh1,high3:iHigh3,high2:iHigh2,highFirst:true,
  pc1x:838,pc1y:1078,pc3x:722,pc3y:958,pc2x:985,pc2y:1035,legX:808});
pca3d({letter:'J',lx:1043,fx:1074,fy:886,fw:173,fh:159,dx:78,dy:-52,r1:[-4,4],r2:[-3.5,2.5],r3:[-2,5],
  t1:[-4,-3,-2,-1,0,1,2,3,4],t2:[-3,-2,-1,0,1,2],t3:[-2,-1,0,1,2,3,4,5],rotLab:false,
  low1:jLow1,low3:jLow3,low2:jLow2,high1:jHigh1,high3:jHigh3,high2:jHigh2,highFirst:false,
  pc1x:1158,pc1y:1075,pc3x:1046,pc3y:955,pc2x:1295,pc2y:1040,legX:1162});

// ---------------- FOREST PLOTS ----------------
function forest(P){
  T(P.lx,1150,P.letter,'panel-letter-'+P.letter,{fs:30,a:'start',c:'#000'});
  const xs=h=>P.x1+Math.log2(h)*P.k;
  T(P.cF,1184,'Factor','header-factor',{a:'start',fs:16});
  T(P.cP,1180,'P-value','header-p-value',{a:'start',fs:16});
  T(P.cH,1184,'Hazard ratio','header-hazard-ratio',{a:'start',fs:16});
  L(P.x1,1128,P.x1,1500,'reference-line-hr-1',{dash:P.dash,w:P.dw});
  const rows=[1218,1308,1398,1488];
  forestFactors.forEach((f,i)=>{
    const y=rows[i];
    T(P.cF+(i===3?P.rsOff:0),y+6,f,'factor-label',{a:'start',fs:16});
    T(P.cPv+P.pOff[i],y+6,P.p[i],'p-value',{a:'start',fs:16});
    T(P.cHv,y+4,P.hr[i].toFixed(3)+' ('+P.lo[i].toFixed(3)+'\u2013'+P.hi[i].toFixed(3)+')','hazard-ratio-text',{a:'start',fs:16});
    L(xs(P.lo[i]),y,xs(P.hi[i]),y,'ci-bar',{c:'#1b3570',w:3.5});
    L(xs(P.lo[i]),y-6,xs(P.lo[i]),y+6,'ci-cap',{c:'#1b3570',w:3});
    L(xs(P.hi[i]),y-6,xs(P.hi[i]),y+6,'ci-cap',{c:'#1b3570',w:3});
    const s=P.sq;mk('rect',{x:xs(P.hr[i])-s/2,y:y-s/2,width:s,height:s,fill:P.col},'hr-square');
  });
  L(P.axL,1505,P.axR,1505,'hr-axis-line',{w:1.5});
  P.ticks.forEach(t=>{L(xs(t),1505,xs(t),1514,'hr-axis-tick',{w:1.5});});
  P.labs.forEach(t=>{T(xs(t),1533,String(t),'hr-axis-tick-label',{fs:15});});
  T((P.axL+P.axR)/2,1556,'Hazard ratio','hr-axis-title',{fs:15});
}
forest({letter:'K',lx:18,x1:382,k:91.7,cF:18,cP:115,cH:232,cPv:115,cHv:197,pOff:[9,0,0,0],rsOff:0,p:kP,hr:kHR,lo:kLo,hi:kHi,
  col:'#73c043',sq:12,dash:'11,13',dw:1.8,axL:382,axR:657,ticks:[1,Math.SQRT2,2,2*Math.SQRT2,4,4*Math.SQRT2,8],labs:[1,2,4,8]});
forest({letter:'L',lx:697,x1:1157,k:92,cF:720,cP:815,cH:925,cPv:821,cHv:878,pOff:[0,0,-8,0],rsOff:2,p:lP,hr:lHR,lo:lLo,hi:lHi,
  col:'#e3191f',sq:16,dash:'12,12',dw:4,axL:1065,axR:1342,ticks:[0.5,0.5*Math.SQRT2,1,Math.SQRT2,2,2*Math.SQRT2,4],labs:[0.5,1,2,4]});
</script>
</body></html>
